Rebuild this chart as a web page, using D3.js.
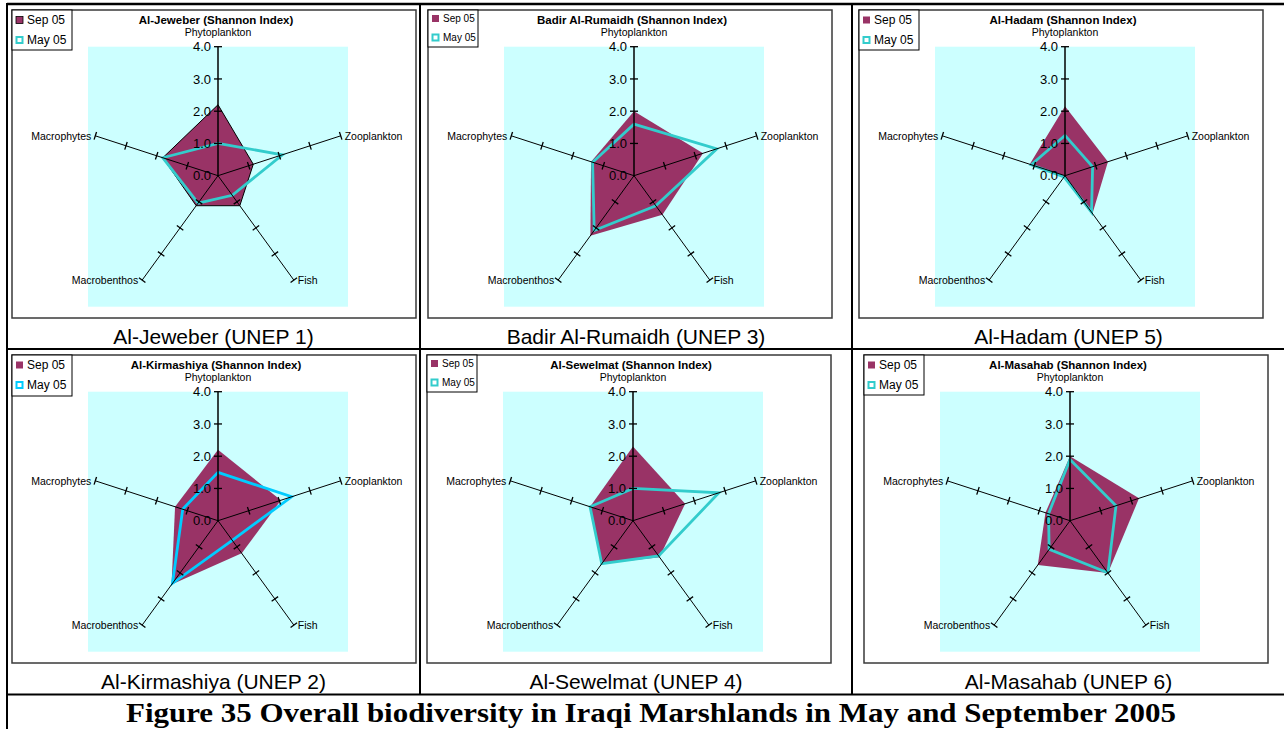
<!DOCTYPE html>
<html>
<head>
<meta charset="utf-8">
<script src="https://cdn.jsdelivr.net/npm/d3@7"></script>
<style>
  body { margin: 0; background: #fff; }
  svg { display: block; }
  text { font-family: "Liberation Sans", Arial, sans-serif; fill: #000; }
</style>
</head>
<body>
<svg id="fig" width="1284" height="729"></svg>
<script>
// ---- data -------------------------------------------------------------
const categories = ["Phytoplankton", "Zooplankton", "Fish", "Macrobenthos", "Macrophytes"];
const siteNames = ["Al-Jeweber", "Badir Al-Rumaidh", "Al-Hadam", "Al-Kirmashiya", "Al-Sewelmat", "Al-Masahab"];
const captions = ["Al-Jeweber (UNEP 1)", "Badir Al-Rumaidh (UNEP 3)", "Al-Hadam (UNEP 5)",
                  "Al-Kirmashiya (UNEP 2)", "Al-Sewelmat (UNEP 4)", "Al-Masahab (UNEP 6)"];
const seriesNames = ["Sep 05", "May 05"];
// Shannon index per site, in category order
const sep05 = [
  [2.2, 1.15, 1.15, 1.15, 1.8],
  [2.0, 2.25, 1.5, 2.3, 1.4],
  [2.15, 1.4, 1.45, 0.05, 1.15],
  [2.2, 2.05, 1.25, 2.45, 1.4],
  [2.3, 1.7, 1.4, 1.65, 1.4],
  [2.0, 2.25, 2.0, 1.7, 0.8]
];
const may05 = [
  [1.0, 2.1, 0.75, 1.05, 1.8],
  [1.6, 2.7, 1.15, 2.1, 1.35],
  [1.25, 0.9, 1.4, 0.05, 1.1],
  [1.5, 2.4, 0.75, 2.4, 1.15],
  [1.0, 2.8, 1.35, 1.65, 1.4],
  [1.9, 1.5, 2.0, 1.1, 0.7]
];
const tickValues = [0, 1, 2, 3, 4];
const tickLabels = ["0.0", "1.0", "2.0", "3.0", "4.0"];
const figureTitle = "Figure 35 Overall biodiversity in Iraqi Marshlands in May and September 2005";

// ---- layout -----------------------------------------------------------
const colSep = [7, 420, 852, 1285];
const rowSep = [4, 349, 694.5];
const frames = [
  { x: 12,  y: 10,  legendW: 60, legendH: 40, legendFont: 12 },
  { x: 428, y: 10,  legendW: 50, legendH: 37, legendFont: 10 },
  { x: 859, y: 10,  legendW: 60, legendH: 40, legendFont: 12 },
  { x: 12,  y: 355, legendW: 60, legendH: 41, legendFont: 12 },
  { x: 427, y: 355, legendW: 50, legendH: 37, legendFont: 10 },
  { x: 864, y: 355, legendW: 60, legendH: 40, legendFont: 12 }
];
const frameW = 404, frameH = 308;
const sepColor = "#993366";
const mayColors = ["#33CCCC", "#33CCCC", "#33CCCC", "#00CCFF", "#33CCCC", "#33CCCC"];

const svg = d3.select("#fig");
const R = 129;
const rScale = d3.scaleLinear().domain([0, 4]).range([0, R]);
const angle = d3.scalePoint().domain(categories).range([0, 2 * Math.PI * 4 / 5]);

const radarLine = d3.lineRadial()
  .angle((d, i) => angle(categories[i]))
  .radius(d => rScale(d))
  .curve(d3.curveLinearClosed);

function drawPanel(i) {
  const f = frames[i];
  const cx = f.x + 206, cy = f.y + 165.7;
  const g = svg.append("g");

  // chart area frame
  g.append("rect")
    .attr("x", f.x).attr("y", f.y).attr("width", frameW).attr("height", frameH)
    .attr("fill", "#fff").attr("stroke", "#3a3a3a").attr("stroke-width", 1.5);

  // plot area
  g.append("rect")
    .attr("x", cx - 130).attr("y", cy - R).attr("width", 260).attr("height", 260)
    .attr("fill", "#CCFFFF");

  const plot = g.append("g").attr("transform", `translate(${cx},${cy})`);

  plot.append("path")
    .attr("d", radarLine(sep05[i]))
    .attr("fill", sepColor)
    .attr("stroke", i === 0 ? "#000" : "none")
    .attr("stroke-width", 1);

  plot.append("path")
    .attr("d", radarLine(may05[i]))
    .attr("fill", "none")
    .attr("stroke", mayColors[i])
    .attr("stroke-width", 2.8)
    .attr("stroke-linejoin", "miter");

  // spokes with tick marks
  categories.forEach(c => {
    const a = angle(c);
    const ux = Math.sin(a), uy = -Math.cos(a);
    const end = rScale(4);
    plot.append("line")
      .attr("x1", 0).attr("y1", 0).attr("x2", ux * end).attr("y2", uy * end)
      .attr("stroke", "#000").attr("stroke-width", c === categories[0] ? 1.5 : 1);
    tickValues.slice(1).forEach(v => {
      const px = ux * rScale(v), py = uy * rScale(v);
      const nx = -uy, ny = ux;
      const len = 4;
      plot.append("line")
        .attr("x1", px - nx * len).attr("y1", py - ny * len)
        .attr("x2", px + nx * len).attr("y2", py + ny * len)
        .attr("stroke", "#000").attr("stroke-width", 1.3);
    });
  });

  // value labels on the first spoke
  tickValues.forEach((v, k) => {
    plot.append("text")
      .attr("x", -7).attr("y", -rScale(v))
      .attr("dy", "0.36em")
      .attr("text-anchor", "end")
      .attr("font-size", 13)
      .attr("fill", "#222")
      .text(tickLabels[k]);
  });

  // category labels
  categories.forEach((c, k) => {
    const a = angle(c);
    const ux = Math.sin(a), uy = -Math.cos(a);
    const ex = ux * rScale(4), ey = uy * rScale(4);
    const t = plot.append("text").attr("font-size", 10.5).attr("fill", "#222").text(c);
    if (k === 0) {
      t.attr("x", ex).attr("y", ey - 11).attr("text-anchor", "middle");
    } else {
      t.attr("x", ux > 0 ? ex + 4 : ex - 4).attr("y", ey).attr("dy", "0.35em")
        .attr("text-anchor", ux > 0 ? "start" : "end");
    }
  });

  // chart title
  g.append("text")
    .attr("x", f.x + 204).attr("y", f.y + 14)
    .attr("text-anchor", "middle")
    .attr("font-size", 11.5).attr("font-weight", "bold")
    .text(siteNames[i] + " (Shannon Index)");

  // legend
  const lg = g.append("g").attr("transform", `translate(${f.x},${f.y})`);
  lg.append("rect").attr("width", f.legendW).attr("height", f.legendH)
    .attr("fill", "#fff").attr("stroke", "#000").attr("stroke-width", 1);
  const rowY = f.legendFont === 12 ? [10, 30] : [8.5, 27.5];
  const sq = 7;
  seriesNames.forEach((s, k) => {
    const y = rowY[k];
    if (k === 0) {
      lg.append("rect").attr("x", 4).attr("y", y - sq / 2).attr("width", sq).attr("height", sq)
        .attr("fill", sepColor).attr("stroke", i === 0 ? "#000" : "none").attr("stroke-width", 0.8);
    } else {
      lg.append("rect").attr("x", 4.5).attr("y", y - sq / 2 + 0.5).attr("width", sq - 1).attr("height", sq - 1)
        .attr("fill", "#fff").attr("stroke", mayColors[i]).attr("stroke-width", 2);
    }
    lg.append("text").attr("x", 15).attr("y", y).attr("dy", "0.36em")
      .attr("font-size", f.legendFont).text(s);
  });

  // cell caption
  const col = i % 3, row = Math.floor(i / 3);
  svg.append("text")
    .attr("x", (colSep[col] + colSep[col + 1]) / 2)
    .attr("y", rowSep[row + 1] - 5.5)
    .attr("text-anchor", "middle")
    .attr("font-size", 21)
    .text(captions[i]);
}

d3.range(6).forEach(drawPanel);

// table rules
const rules = svg.append("g").attr("stroke", "#000");
rules.append("line").attr("x1", colSep[0]).attr("x2", 1284).attr("y1", 4).attr("y2", 4).attr("stroke-width", 2.5);
rules.append("line").attr("x1", colSep[0]).attr("x2", colSep[0]).attr("y1", 3).attr("y2", 729).attr("stroke-width", 2);
[colSep[1], colSep[2]].forEach(x =>
  rules.append("line").attr("x1", x).attr("x2", x).attr("y1", 3).attr("y2", rowSep[2]).attr("stroke-width", 2));
[rowSep[1], rowSep[2]].forEach(y =>
  rules.append("line").attr("x1", colSep[0]).attr("x2", 1284).attr("y1", y).attr("y2", y).attr("stroke-width", 2));

// figure caption
svg.append("text")
  .attr("x", 651).attr("y", 722)
  .attr("text-anchor", "middle")
  .style("font-family", "'Liberation Serif', 'Times New Roman', serif")
  .attr("font-size", 28).attr("font-weight", "bold")
  .attr("textLength", 1050).attr("lengthAdjust", "spacingAndGlyphs")
  .text(figureTitle);
</script>
</body>
</html>
